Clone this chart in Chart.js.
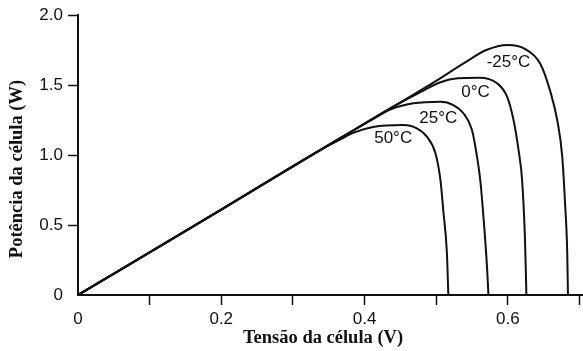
<!DOCTYPE html>
<html>
<head>
<meta charset="utf-8">
<script src="https://cdn.jsdelivr.net/npm/chart.js@4/dist/chart.umd.min.js"></script>
<style>
  html, body { margin: 0; padding: 0; background: #fff; }
  #wrap { width: 583px; height: 351px; position: relative; }
</style>
</head>
<body>
<div id="wrap"><canvas id="c"></canvas></div>
<script>
// Power–voltage curves of a solar cell at four temperatures
const seriesNames = ['-25°C', '0°C', '25°C', '50°C'];

const voltsM25 = [0, 0.2, 0.366, 0.44, 0.50, 0.54, 0.57, 0.60, 0.625, 0.645, 0.659, 0.669, 0.676, 0.680, 0.683, 0.684];
const powerM25 = [0, 0.61, 1.12, 1.345, 1.53, 1.66, 1.75, 1.786, 1.755, 1.655, 1.46, 1.25, 0.99, 0.65, 0.30, 0];

const volts0 = [0, 0.2, 0.366, 0.44, 0.48, 0.506, 0.53, 0.56, 0.585, 0.599, 0.608, 0.615, 0.620, 0.624, 0.626];
const power0 = [0, 0.61, 1.12, 1.345, 1.455, 1.52, 1.548, 1.552, 1.512, 1.417, 1.25, 1.036, 0.82, 0.40, 0];

const volts25 = [0, 0.2, 0.366, 0.41, 0.436, 0.468, 0.506, 0.524, 0.538, 0.55, 0.557, 0.562, 0.566, 0.571, 0.573];
const power25 = [0, 0.61, 1.12, 1.25, 1.325, 1.369, 1.381, 1.357, 1.298, 1.179, 0.99, 0.80, 0.56, 0.20, 0];

const volts50 = [0, 0.2, 0.34, 0.366, 0.385, 0.412, 0.454, 0.473, 0.487, 0.499, 0.506, 0.510, 0.515, 0.517];
const power50 = [0, 0.61, 1.04, 1.11, 1.16, 1.20, 1.214, 1.19, 1.131, 1.012, 0.82, 0.60, 0.30, 0];

// Where each temperature label sits (volts, watts)
const labelVolts = [0.601, 0.555, 0.503, 0.440];
const labelPower = [1.66, 1.45, 1.26, 1.12];

const xTicks = [0, 0.1, 0.2, 0.3, 0.4, 0.5, 0.6, 0.7];
const xTickLabels = ['0', '', '0.2', '', '0.4', '', '0.6', ''];
const yTicks = [0, 0.5, 1.0, 1.5, 2.0];
const yTickLabels = ['0', '0.5', '1.0', '1.5', '2.0'];

const xTitle = 'Tensão da célula (V)';
const yTitle = 'Potência da célula (W)';

function pairs(xs, ys) { return xs.map((x, i) => ({ x: x, y: ys[i] })); }

const curveSets = [
  pairs(voltsM25, powerM25),
  pairs(volts0, power0),
  pairs(volts25, power25),
  pairs(volts50, power50)
];

const INK = '#111';
const SANS = '"Liberation Sans", Arial, sans-serif';

const annotate = {
  id: 'annotate',
  afterDraw(chart) {
    const ctx = chart.ctx;
    const xs = chart.scales.x, ys = chart.scales.y;
    const area = chart.chartArea;
    ctx.save();
    ctx.fillStyle = INK;
    ctx.font = '17px ' + SANS;
    ctx.textAlign = 'center';
    ctx.textBaseline = 'middle';
    seriesNames.forEach((name, i) => {
      ctx.fillText(name, xs.getPixelForValue(labelVolts[i]), ys.getPixelForValue(labelPower[i]));
    });
    ctx.font = 'bold 18.5px "Liberation Serif", "Times New Roman", serif';
    ctx.fillText(xTitle, area.left + 245, area.bottom + 43);
    ctx.translate(area.left - 61, area.top + 154);
    ctx.rotate(-Math.PI / 2);
    ctx.fillText(yTitle, 0, 0);
    ctx.restore();
  }
};

new Chart(document.getElementById('c'), {
  type: 'line',
  data: {
    datasets: curveSets.map((d, i) => ({
      label: seriesNames[i],
      data: d,
      borderColor: INK,
      borderWidth: 2,
      pointRadius: 0,
      fill: false,
      cubicInterpolationMode: 'monotone'
    }))
  },
  options: {
    responsive: true,
    maintainAspectRatio: false,
    animation: false,
    layout: { padding: { top: 15, right: 0, bottom: 0, left: 0 } },
    plugins: { legend: { display: false }, tooltip: { enabled: false } },
    scales: {
      x: {
        type: 'linear',
        min: 0,
        max: 0.705,
        afterBuildTicks: s => { s.ticks = xTicks.map(v => ({ value: v })); },
        afterFit: s => { s.height = 56; s.paddingLeft = 0; s.paddingRight = 0; },
        ticks: {
          color: INK,
          padding: 4,
          maxRotation: 0,
          autoSkip: false,
          font: { family: SANS, size: 17 },
          callback: (v, i) => xTickLabels[i]
        },
        grid: {
          drawOnChartArea: false,
          tickLength: 10,
          tickWidth: 1.5,
          tickColor: c => (c.tick && c.tick.value === 0 ? 'rgba(0,0,0,0)' : INK)
        },
        border: { display: true, color: INK, width: 2 }
      },
      y: {
        type: 'linear',
        min: 0,
        max: 2,
        afterBuildTicks: s => { s.ticks = yTicks.map(v => ({ value: v })); },
        afterFit: s => { s.width = 78; s.paddingTop = 0; s.paddingBottom = 0; },
        ticks: {
          color: INK,
          padding: 5,
          autoSkip: false,
          font: { family: SANS, size: 17 },
          callback: (v, i) => yTickLabels[i]
        },
        grid: {
          drawOnChartArea: false,
          tickLength: 10,
          tickWidth: 1.5,
          tickColor: c => (c.tick && c.tick.value === 0 ? 'rgba(0,0,0,0)' : INK)
        },
        border: { display: true, color: INK, width: 2 }
      }
    }
  },
  plugins: [annotate]
});
</script>
</body>
</html>
